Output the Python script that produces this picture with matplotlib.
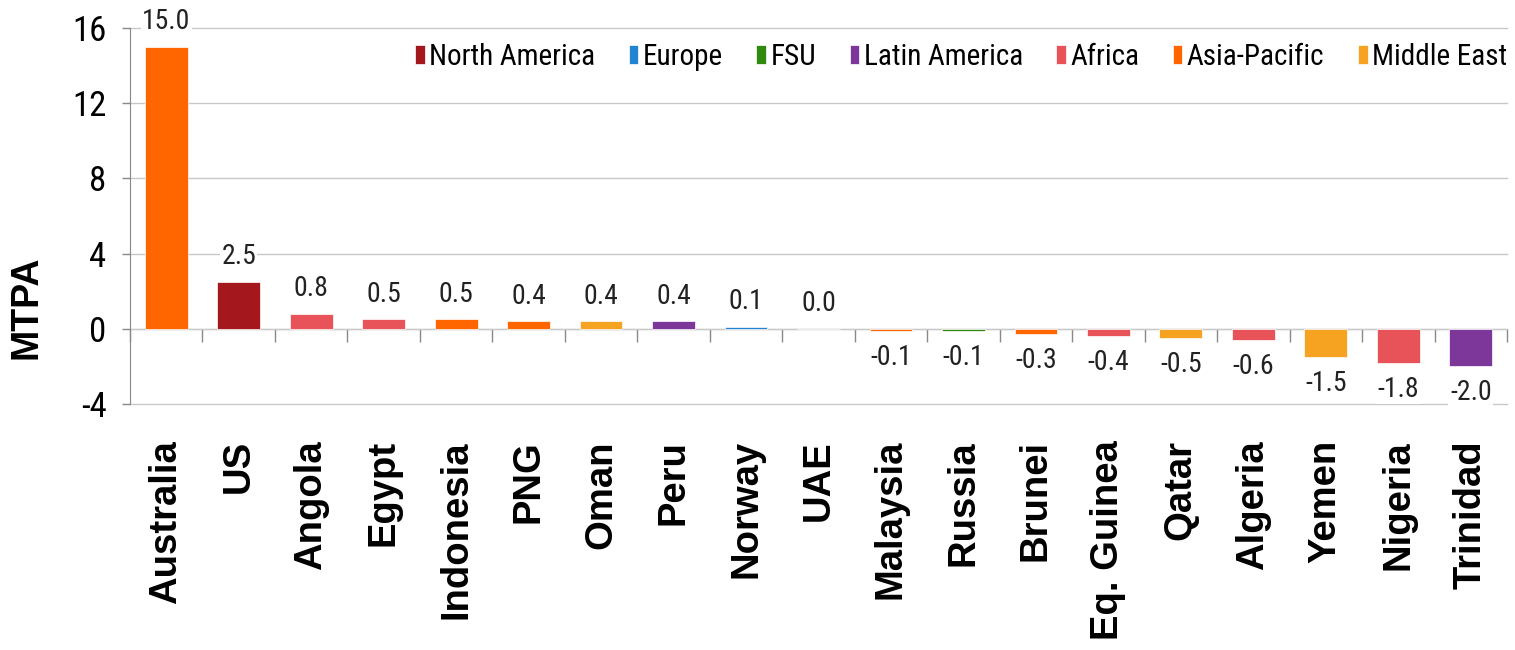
import matplotlib
matplotlib.use("Agg")
import matplotlib.pyplot as plt
import numpy as np

countries = ["Australia", "US", "Angola", "Egypt", "Indonesia", "PNG", "Oman", "Peru",
             "Norway", "UAE", "Malaysia", "Russia", "Brunei", "Eq. Guinea", "Qatar",
             "Algeria", "Yemen", "Nigeria", "Trinidad"]
values = [15.0, 2.5, 0.8, 0.5, 0.5, 0.4, 0.4, 0.4, 0.1, 0.0, -0.1, -0.1, -0.3, -0.4,
          -0.5, -0.6, -1.5, -1.8, -2.0]
regions = ["Asia-Pacific", "North America", "Africa", "Africa", "Asia-Pacific", "Asia-Pacific",
           "Middle East", "Latin America", "Europe", "Middle East", "Asia-Pacific", "FSU",
           "Asia-Pacific", "Africa", "Middle East", "Africa", "Middle East", "Africa",
           "Latin America"]
region_order = ["North America", "Europe", "FSU", "Latin America", "Africa",
                "Asia-Pacific", "Middle East"]
region_colors = ["#A3171D", "#2383D3", "#2E8B0E", "#7D3699", "#E8535A", "#FF6600", "#F5A320"]
yticks = [-4, 0, 4, 8, 12, 16]

narrow = ["Roboto Condensed", "Liberation Sans", "DejaVu Sans"]
sans = ["Liberation Sans", "DejaVu Sans"]

fig = plt.figure(figsize=(15.15, 6.5), dpi=100)
ax = fig.add_axes([130/1515, 1-404/650, 1377/1515, 376/650])

x = np.arange(len(countries))
for reg, col in zip(region_order, region_colors):
    idx = [i for i, r in enumerate(regions) if r == reg]
    ax.bar(x[idx], [values[i] for i in idx], width=0.59, color=col, label=reg,
           edgecolor="white", linewidth=0.5, zorder=3)

for xi, v in zip(x, values):
    off = 18 if v >= 0 else -19
    ax.annotate(f"{v:.1f}", (xi, v), xytext=(0, off), textcoords="offset points",
                ha="center", va="center", fontsize=20, family=narrow, color="#222222",
                bbox=dict(facecolor="white", edgecolor="none", pad=1), zorder=4)

ax.set_xlim(-0.5, len(countries) - 0.5)
ax.set_ylim(yticks[0], yticks[-1])
ax.set_yticks(yticks)
ax.set_yticklabels([str(t) for t in yticks], family=narrow, fontsize=25)
ax.tick_params(axis="y", direction="out", length=6, width=1, color="#888888", pad=11)
ax.yaxis.grid(True, color="#C8C8C8", linewidth=1, zorder=0)
for gl in ax.get_ygridlines():
    gl.set_clip_on(False)
ax.set_axisbelow(True)

ax.set_xticks(x)
ax.set_xticklabels(countries, rotation=90, fontsize=27.5, fontweight="bold", family=sans,
                   va="top", ha="center")
ax.tick_params(axis="x", length=0, pad=26)

for s in ["top", "right", "bottom"]:
    ax.spines[s].set_visible(False)
ax.spines["left"].set_color("#888888")

# category axis at zero
sec = ax.secondary_xaxis(-yticks[0] / (yticks[-1] - yticks[0]))
sec.set_xticks(np.arange(len(countries) + 1) - 0.5)
sec.set_xticklabels([])
sec.tick_params(axis="x", direction="out", length=9, width=1, color="#888888")
sec.spines["bottom"].set_color("#888888")

ax.set_ylabel("MTPA", fontsize=27, fontweight="bold", family=sans, va="center")
ax.yaxis.set_label_coords((27 - 130) / 1377, (404 - 307) / 376)

leg = ax.legend(loc="center right", bbox_to_anchor=(1507/1515, 1 - 57/650), bbox_transform=fig.transFigure,
                ncol=7, frameon=False, handlelength=0.33, handleheight=0.6, handletextpad=0.15,
                columnspacing=1.15, prop={"family": narrow, "size": 21}, borderaxespad=0,
                borderpad=0)

fig.savefig("out.png", dpi=100, facecolor="white")
